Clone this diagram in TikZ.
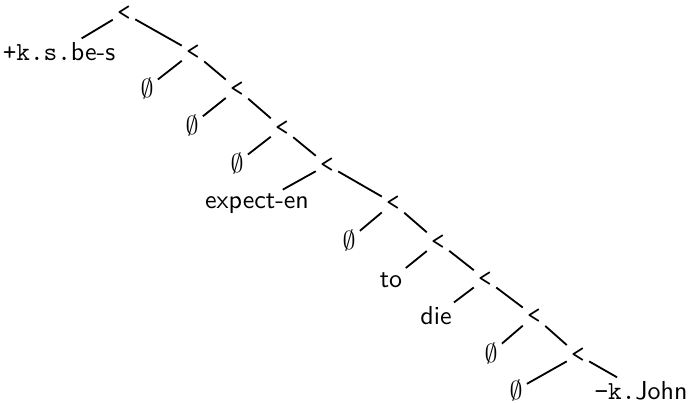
\documentclass[tikz,border=0pt]{standalone}
\begin{document}
\begin{tikzpicture}[x=0.385pt,y=-0.385pt,
  inner/.style={font=\ttfamily, inner sep=1.5pt},
  leaf/.style={font=\sffamily, inner sep=1.5pt},
  edge/.style={line width=0.7pt}]
\useasboundingbox (0,0) rectangle (689,402);
\node[inner] (r1) at (124,13) {<};
\node[leaf] (l1) at (59,52) {\texttt{+k.s.}be-s};
\node[inner] (r2) at (193,52) {<};
\node[leaf] (l2) at (147,88) {$\emptyset$};
\node[inner] (r3) at (237,89) {<};
\node[leaf] (l3) at (192,125) {$\emptyset$};
\node[inner] (r4) at (282,128) {<};
\node[leaf] (l4) at (237,163) {$\emptyset$};
\node[inner] (r5) at (327,165) {<};
\node[leaf] (l5) at (257,204) {expect-en};
\node[inner] (r6) at (393,203) {<};
\node[leaf] (l6) at (349,240) {$\emptyset$};
\node[inner] (r7) at (438,242) {<};
\node[leaf] (l7) at (391,280) {to};
\node[inner] (r8) at (485,279) {<};
\node[leaf] (l8) at (436,316) {die};
\node[inner] (r9) at (534,316) {<};
\node[leaf] (l9) at (491,353) {$\emptyset$};
\node[inner] (r10) at (578,355) {<};
\node[leaf] (l10) at (516,390) {$\emptyset$};
\node[leaf] (l11) at (641,391) {\texttt{−k.}John};
\foreach \p/\a/\b in {r1/l1/r2, r2/l2/r3, r3/l3/r4, r4/l4/r5, r5/l5/r6, r6/l6/r7, r7/l7/r8, r8/l8/r9, r9/l9/r10, r10/l10/l11}{
  \draw[edge] (\p) -- (\a);
  \draw[edge] (\p) -- (\b);
}
\end{tikzpicture}
\end{document}
